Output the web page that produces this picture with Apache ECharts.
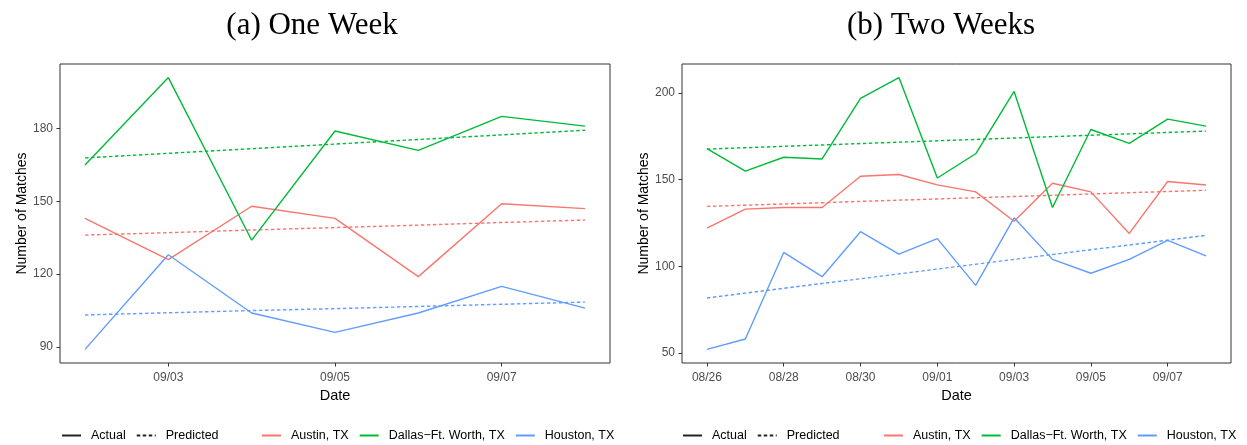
<!DOCTYPE html>
<html>
<head>
<meta charset="utf-8">
<script src="https://cdn.jsdelivr.net/npm/echarts@6/dist/echarts.min.js"></script>
<style>
  html, body { margin: 0; padding: 0; background: #fff; }
  #chart { width: 1247px; height: 445px; }
</style>
</head>
<body>
<div id="chart"></div>
<script>
// ---- (a) one-week window ----
const oneWeekDates = ['09/02', '09/03', '09/04', '09/05', '09/06', '09/07', '09/08'];
const oneWeekTicks = ['09/03', '09/05', '09/07'];
const oneWeekYTicks = [90, 120, 150, 180];
const austinActual1  = [143, 126, 148, 143, 119, 149, 147];
const austinPred1    = [136.1, 137.1, 138.2, 139.2, 140.2, 141.3, 142.3];
const dallasActual1  = [165, 201, 134, 179, 171, 185, 181];
const dallasPred1    = [167.9, 169.8, 171.7, 173.6, 175.5, 177.4, 179.3];
const houstonActual1 = [89, 128, 104, 96, 104, 115, 106];
const houstonPred1   = [103.2, 104.1, 105.0, 105.8, 106.7, 107.6, 108.5];

// ---- (b) two-week window ----
const twoWeekDates = ['08/26', '08/27', '08/28', '08/29', '08/30', '08/31', '09/01',
                      '09/02', '09/03', '09/04', '09/05', '09/06', '09/07', '09/08'];
const twoWeekTicks = ['08/26', '08/28', '08/30', '09/01', '09/03', '09/05', '09/07'];
const twoWeekYTicks = [50, 100, 150, 200];
const austinActual2  = [122, 133, 134, 134, 152, 153, 147, 143, 126, 148, 143, 119, 149, 147];
const austinPred2    = [134.6, 135.3, 136.0, 136.7, 137.5, 138.2, 138.9, 139.6, 140.3, 141.0, 141.8, 142.5, 143.2, 143.9];
const dallasActual2  = [168, 155, 163, 162, 197, 209, 151, 165, 201, 134, 179, 171, 185, 181];
const dallasPred2    = [167.7, 168.5, 169.3, 170.1, 170.9, 171.7, 172.5, 173.3, 174.1, 174.9, 175.7, 176.5, 177.3, 178.1];
const houstonActual2 = [52, 58, 108, 94, 120, 107, 116, 89, 128, 104, 96, 104, 115, 106];
const houstonPred2   = [81.7, 84.5, 87.3, 90.1, 92.8, 95.6, 98.4, 101.2, 104.0, 106.8, 109.6, 112.3, 115.1, 117.9];

const cities = ['Austin, TX', 'Dallas\u2212Ft. Worth, TX', 'Houston, TX'];
const cityColors = ['#F8766D', '#00BA38', '#619CFF'];
const kinds = ['Actual', 'Predicted'];

const SANS = 'Liberation Sans, Arial, Helvetica, sans-serif';
const SERIF = 'Liberation Serif, Times New Roman, serif';
const DOTS = [3.5, 2.5];
const LINE_W = 1.4;

// ggplot-style 5% padding around the data range
function padded(lo, hi, frac) {
  const pad = (hi - lo) * frac;
  return [lo - pad, hi + pad];
}
function dataRange(arrays) {
  const all = [].concat(...arrays);
  return padded(Math.min(...all), Math.max(...all), 0.05);
}
const toPairs = values => values.map((v, i) => [i, v]);

const panels = [
  {
    dates: oneWeekDates, ticks: oneWeekTicks, yTicks: oneWeekYTicks,
    actual: [austinActual1, dallasActual1, houstonActual1],
    predicted: [austinPred1, dallasPred1, houstonPred1]
  },
  {
    dates: twoWeekDates, ticks: twoWeekTicks, yTicks: twoWeekYTicks,
    actual: [austinActual2, dallasActual2, houstonActual2],
    predicted: [austinPred2, dallasPred2, houstonPred2]
  }
];

const grids = [
  { left: 60, top: 64, width: 550, height: 299 },
  { left: 682, top: 64, width: 549, height: 299 }
];

const xAxes = [], yAxes = [], series = [];

// legend key series (black)
series.push({
  type: 'line', name: 'Actual', data: [], xAxisIndex: 0, yAxisIndex: 0,
  symbol: 'none', color: '#222', lineStyle: { width: LINE_W, color: '#222', type: 'solid' }
});
series.push({
  type: 'line', name: 'Predicted', data: [], xAxisIndex: 0, yAxisIndex: 0,
  symbol: 'none', color: '#222', lineStyle: { width: LINE_W, color: '#222', type: DOTS }
});

panels.forEach((p, gi) => {
  const n = p.dates.length;
  const xPad = (n - 1) * 0.05;
  const [yMin, yMax] = dataRange(p.actual.concat(p.predicted));
  const xTickVals = p.ticks.map(t => p.dates.indexOf(t));

  xAxes.push({
    type: 'value', gridIndex: gi, min: -xPad, max: n - 1 + xPad, position: 'bottom',
    name: 'Date', nameLocation: 'middle', nameGap: 21,
    nameTextStyle: { fontFamily: SANS, fontSize: 14.5, color: '#000' },
    axisLine: { show: false, onZero: false },
    splitLine: { show: false },
    axisTick: { show: true, inside: false, customValues: xTickVals, length: 3.5, lineStyle: { color: '#333', width: 1 } },
    axisLabel: {
      customValues: xTickVals, margin: 9, fontFamily: SANS, fontSize: 12, color: '#4D4D4D',
      formatter: v => p.dates[Math.round(v)]
    }
  });
  yAxes.push({
    type: 'value', gridIndex: gi, min: yMin, max: yMax, position: 'left',
    name: 'Number of Matches', nameLocation: 'middle', nameGap: 31,
    nameTextStyle: { fontFamily: SANS, fontSize: 14, color: '#000' },
    axisLine: { show: false, onZero: false },
    splitLine: { show: false },
    axisTick: { show: true, inside: false, customValues: p.yTicks, length: 3.5, lineStyle: { color: '#333', width: 1 } },
    axisLabel: { customValues: p.yTicks, margin: 7, fontFamily: SANS, fontSize: 12, color: '#4D4D4D' }
  });

  // observed series first so legend keys are solid
  p.actual.forEach((vals, ci) => {
    series.push({
      type: 'line', name: cities[ci], xAxisIndex: gi, yAxisIndex: gi,
      data: toPairs(vals), symbol: 'none', color: cityColors[ci],
      lineStyle: { width: LINE_W, color: cityColors[ci] }, z: 3
    });
  });
  p.predicted.forEach((vals, ci) => {
    series.push({
      type: 'line', name: cities[ci], xAxisIndex: gi, yAxisIndex: gi,
      data: toPairs(vals), symbol: 'none', color: cityColors[ci],
      lineStyle: { width: LINE_W, color: cityColors[ci], type: DOTS }, z: 2
    });
  });
});

const legendCommon = {
  orient: 'horizontal', top: 424, padding: 5, itemWidth: 19, itemHeight: 14, itemGap: 10,
  selectedMode: false,
  itemStyle: { opacity: 0 },
  textStyle: { fontFamily: SANS, fontSize: 12.5, color: '#000', padding: [0, 0, 0, 5] }
};

const option = {
  animation: false,
  backgroundColor: '#fff',
  grid: grids.map(g => Object.assign({
    show: true, borderColor: '#333', borderWidth: 1, backgroundColor: 'transparent'
  }, g)),
  xAxis: xAxes,
  yAxis: yAxes,
  legend: [
    Object.assign({ data: kinds, left: 56 }, legendCommon),
    Object.assign({ data: cities, left: 256 }, legendCommon),
    Object.assign({ data: kinds, left: 677 }, legendCommon),
    Object.assign({ data: cities, left: 878 }, legendCommon)
  ],
  graphic: [
    { type: 'text', x: 312, y: 26, style: { text: '(a) One Week', fontFamily: SERIF, fontSize: 31, fill: '#000', align: 'center', verticalAlign: 'middle' } },
    { type: 'text', x: 941, y: 26, style: { text: '(b) Two Weeks', fontFamily: SERIF, fontSize: 31, fill: '#000', align: 'center', verticalAlign: 'middle' } }
  ],
  series: series
};

const chart = echarts.init(document.getElementById('chart'));
chart.setOption(option);
</script>
</body>
</html>
